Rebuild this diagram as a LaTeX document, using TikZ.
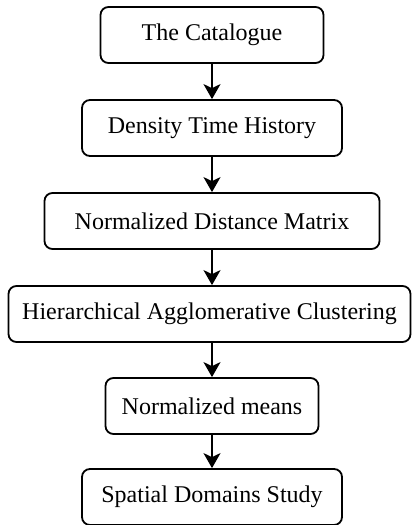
\documentclass[tikz,border=0pt]{standalone}
\usepackage{fontspec}
\setmainfont{Liberation Serif}
\usepackage{tikz}
\usetikzlibrary{arrows.meta, positioning}

\begin{document}
\begin{tikzpicture}
[x = 1pt, y = -1pt, font = \fontsize{24}{28}\selectfont,
 stepbox/.style = {rectangle, rounded corners = 8pt, draw=black, line width=1.8pt, fill=white, minimum height=56pt, inner sep=0pt},
 flow/.style = {-{Stealth[length=15pt, width=17pt, inset=4pt]}, line width=1.8pt}]
\useasboundingbox (0,0) rectangle (412,525);
\node[stepbox, minimum width=223pt] (n1) at (212,35) {The Catalogue};
\node[stepbox, minimum width=260pt] (n2) at (212,128) {Density Time History};
\node[stepbox, minimum width=335pt] (n3) at (212,221) {Normalized Distance Matrix};
\node[stepbox, minimum width=402pt] (n4) at (209.5,314) {Hierarchical Agglomerative Clustering};
\node[stepbox, minimum width=213pt] (n5) at (212,406) {Normalized means};
\node[stepbox, minimum width=260pt] (n6) at (212,497) {Spatial Domains Study};

\draw[flow] (n1) edge (n2) (n2) edge (n3) (n5) edge (n6);
\draw[flow] (n3) -- (n3 |- n4.north);
\draw[flow] (n5 |- n4.south) -- (n5);

\end{tikzpicture}
\end{document}
